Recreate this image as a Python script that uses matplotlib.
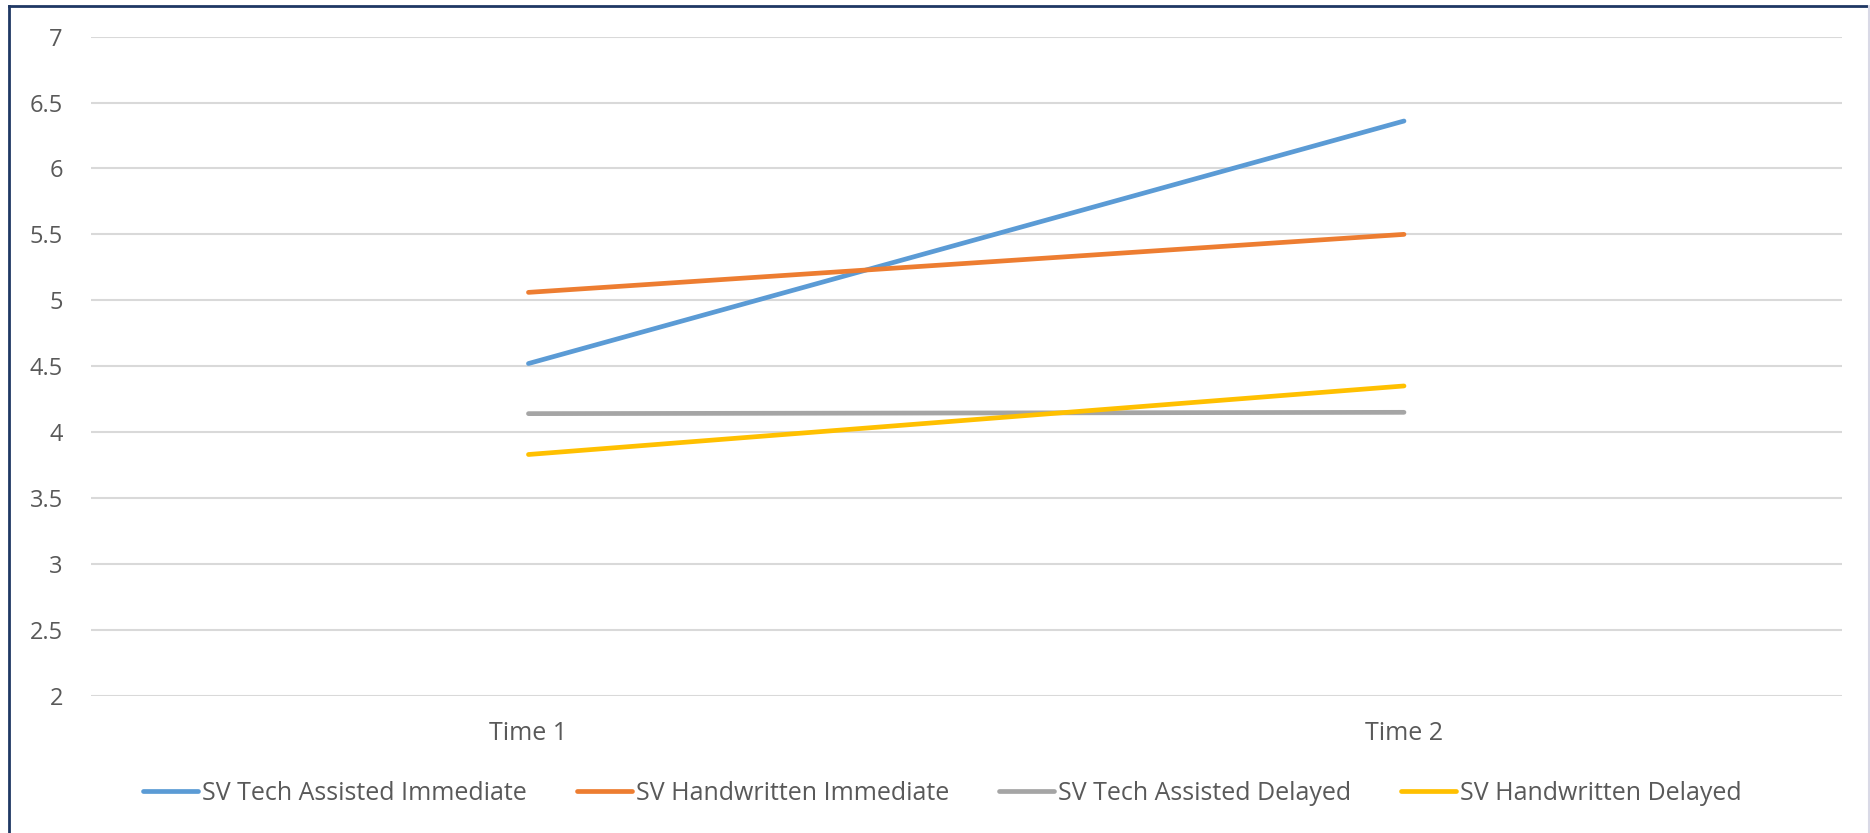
import matplotlib
matplotlib.use("Agg")
import matplotlib.pyplot as plt
from matplotlib.lines import Line2D

categories = ["Time 1", "Time 2"]
series_names = ["SV Tech Assisted Immediate", "SV Handwritten Immediate",
                "SV Tech Assisted Delayed", "SV Handwritten Delayed"]
tech_immediate = [4.52, 6.36]
hand_immediate = [5.06, 5.50]
tech_delayed = [4.14, 4.15]
hand_delayed = [3.83, 4.35]
colors = ["#5B9BD5", "#ED7D31", "#A5A5A5", "#FFC000"]
y_ticks = [2, 2.5, 3, 3.5, 4, 4.5, 5, 5.5, 6, 6.5, 7]
y_labels = ["2", "2.5", "3", "3.5", "4", "4.5", "5", "5.5", "6", "6.5", "7"]

plt.rcParams['font.family'] = ['Open Sans', 'DejaVu Sans']

fig = plt.figure(figsize=(18.7, 8.33), dpi=100)
ax = fig.add_axes([0.0485, 0.1648, 0.9364, 0.7912])

x = list(range(len(categories)))
for vals, name, c in zip([tech_immediate, hand_immediate, tech_delayed, hand_delayed],
                         series_names, colors):
    ax.plot(x, vals, color=c, lw=3.4, solid_capstyle='round', label=name, zorder=3)

ax.set_xlim(-0.5, 1.5)
ax.set_ylim(2, 7)
ax.set_yticks(y_ticks)
ax.set_yticklabels(y_labels)
ax.set_xticks(x)
ax.set_xticklabels(categories)
ax.grid(axis='y', color='#D9D9D9', lw=1.5)
ax.set_axisbelow(True)
for s in ax.spines.values():
    s.set_visible(False)
ax.tick_params(axis='y', length=0, pad=20, labelsize=17, labelcolor='#595959')
ax.tick_params(axis='x', length=0, pad=18, labelsize=18, labelcolor='#595959')

handles = [Line2D([], [], color=c, lw=3.4, solid_capstyle='round') for c in colors]
fig.legend(handles, series_names, loc='center', bbox_to_anchor=(0.504, 0.048), ncol=4,
           frameon=False, fontsize=18, labelcolor='#595959', handlelength=2.2,
           handletextpad=0.16, columnspacing=2.0)

# frame border
fig.add_artist(Line2D([9/1870, 9/1870], [0, 1 - 5.5/833], transform=fig.transFigure,
                      color='#1F3864', lw=2))
fig.add_artist(Line2D([9/1870, 1], [1 - 5.5/833, 1 - 5.5/833], transform=fig.transFigure,
                      color='#1F3864', lw=2))
fig.add_artist(Line2D([1868.5/1870, 1868.5/1870], [0, 1 - 5.5/833], transform=fig.transFigure,
                      color='#D9D9E6', lw=1.5))

fig.savefig("out.png", dpi=100)
